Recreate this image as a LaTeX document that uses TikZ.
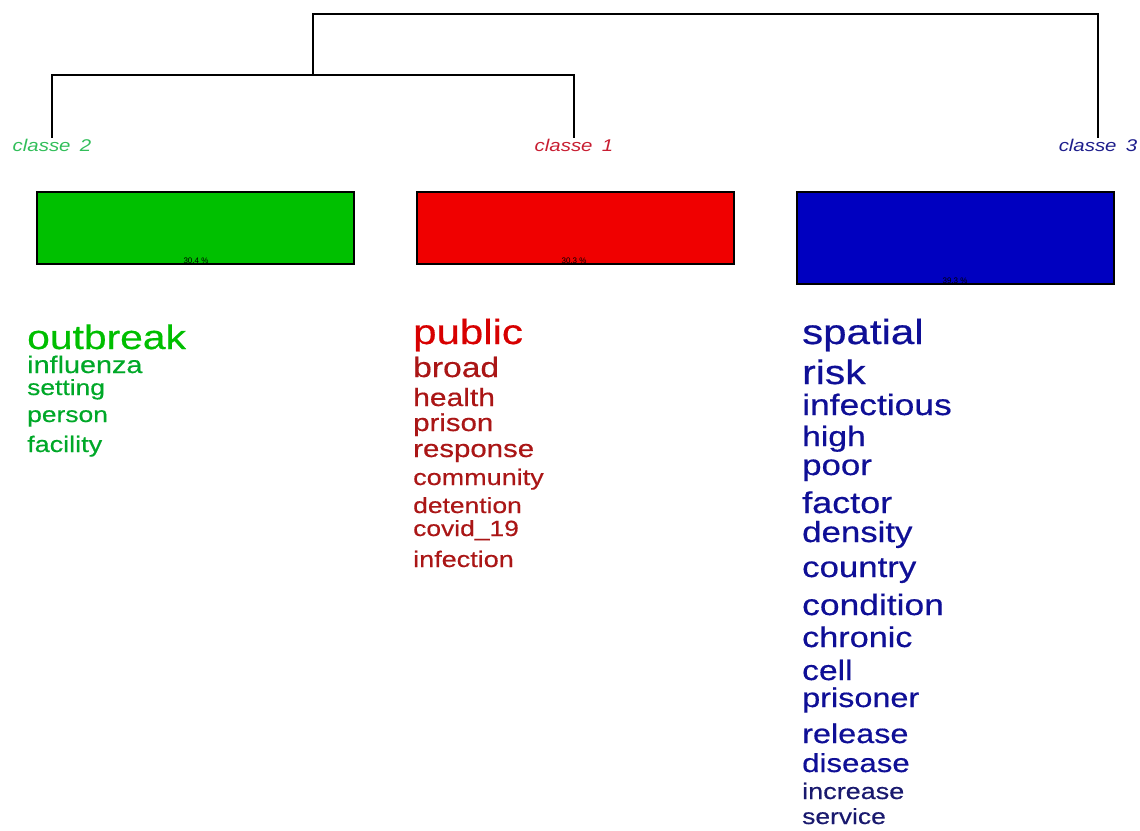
\documentclass[tikz,border=0pt]{standalone}
\usepackage{fontspec}
\setmainfont{Liberation Sans}
\newfontfamily\wordfont[FakeStretch=1.2, FakeBold=0.5]{Liberation Sans}
\newfontfamily\labfont[FakeStretch=1.2]{Liberation Sans}
\newcommand{\wf}[1]{\wordfont\fontsize{#1}{#1}\selectfont}

\definecolor{grnbar}{RGB}{0,192,0}
\definecolor{redbar}{RGB}{240,0,0}
\definecolor{blubar}{RGB}{0,0,192}
\definecolor{grnA}{RGB}{0,190,0}
\definecolor{grnB}{RGB}{0,168,40}
\definecolor{redA}{RGB}{215,0,0}
\definecolor{redB}{RGB}{170,22,22}
\definecolor{bluA}{RGB}{15,15,150}
\definecolor{bluB}{RGB}{25,25,110}
\definecolor{grnlab}{RGB}{50,190,90}
\definecolor{redlab}{RGB}{200,30,50}
\definecolor{blulab}{RGB}{30,30,140}

\tikzset{
  word/.style={anchor=base west, inner sep=0pt},
  classlab/.style={font=\labfont\fontsize{17}{17}\selectfont\itshape, inner sep=1pt},
  bar/.style={draw=black, line width=1.5pt},
  pct/.style={font=\fontsize{8}{8}\selectfont, anchor=base, inner sep=0pt},
  tree/.style={line width=1.5pt}
}

\begin{document}
\begin{tikzpicture}[x=1pt, y=-1pt]
  \useasboundingbox (0,0) rectangle (1140,830);

  % Class labels
  \node[classlab, text=grnlab] (c2) at (52,145) {classe\hspace{0.55em}2};
  \node[classlab, text=redlab] (c1) at (574,145) {classe\hspace{0.55em}1};
  \node[classlab, text=blulab] (c3) at (1098,145) {classe\hspace{0.55em}3};

  % Dendrogram
  \coordinate (j21) at (313,75);
  \coordinate (jtop) at (706,14);
  \draw[tree] (c2.north) |- (j21) -| (c1.north);
  \draw[tree] (j21) |- (jtop) -| (c3.north);

  % Bars
  \draw[bar, fill=grnbar] (37,192) rectangle (354,264);
  \draw[bar, fill=redbar] (417,192) rectangle (734,264);
  \draw[bar, fill=blubar] (797,192) rectangle (1114,284);
  \node[pct] (p2) at (196,263) {30.4 \%};
  \node[pct] (p1) at (574,263) {30.3 \%};
  \node[pct] (p3) at (955,283) {39.3 \%};

  % Words classe 2
  \node[word, text=grnA, font=\wf{34}] (outbreak) at (27,349) {outbreak};
  \node[word, text=grnB, font=\wf{24}] (influenza) at (27,373) {influenza};
  \node[word, text=grnB, font=\wf{22}] (setting) at (27,395) {setting};
  \node[word, text=grnB, font=\wf{22}] (person) at (27,422) {person};
  \node[word, text=grnB, font=\wf{22.5}] (facility) at (27,452) {facility};

  % Words classe 1
  \node[word, text=redA, font=\wf{35}] (public) at (413,344) {public};
  \node[word, text=redB, font=\wf{28}] (broad) at (413,377) {broad};
  \node[word, text=redB, font=\wf{25}] (health) at (413,406) {health};
  \node[word, text=redB, font=\wf{24.5}] (prison) at (413,431) {prison};
  \node[word, text=redB, font=\wf{24.5}] (response) at (413,457) {response};
  \node[word, text=redB, font=\wf{22.5}] (community) at (413,485) {community};
  \node[word, text=redB, font=\wf{22}] (detention) at (413,513) {detention};
  \node[word, text=redB, font=\wf{22}] (covid) at (413,536) {covid\_19};
  \node[word, text=redB, font=\wf{22.5}] (infection) at (413,567) {infection};

  % Words classe 3
  \node[word, text=bluA, font=\wf{35}] (spatial) at (802,344) {spatial};
  \node[word, text=bluA, font=\wf{34}] (risk) at (802,384) {risk};
  \node[word, text=bluA, font=\wf{29.5}] (infectious) at (802,415) {infectious};
  \node[word, text=bluA, font=\wf{28}] (high) at (802,446) {high};
  \node[word, text=bluA, font=\wf{29}] (poor) at (802,475) {poor};
  \node[word, text=bluA, font=\wf{30}] (factor) at (802,513) {factor};
  \node[word, text=bluA, font=\wf{29}] (density) at (802,542) {density};
  \node[word, text=bluA, font=\wf{29}] (country) at (802,577) {country};
  \node[word, text=bluA, font=\wf{29.5}] (condition) at (802,615) {condition};
  \node[word, text=bluA, font=\wf{28.5}] (chronic) at (802,647) {chronic};
  \node[word, text=bluA, font=\wf{28}] (cell) at (802,680) {cell};
  \node[word, text=bluA, font=\wf{27}] (prisoner) at (802,707) {prisoner};
  \node[word, text=bluA, font=\wf{27}] (release) at (802,743) {release};
  \node[word, text=bluA, font=\wf{26}] (disease) at (802,772) {disease};
  \node[word, text=bluB, font=\wf{22.5}] (increase) at (802,799) {increase};
  \node[word, text=bluB, font=\wf{22}] (service) at (802,824) {service};
\end{tikzpicture}
\end{document}
